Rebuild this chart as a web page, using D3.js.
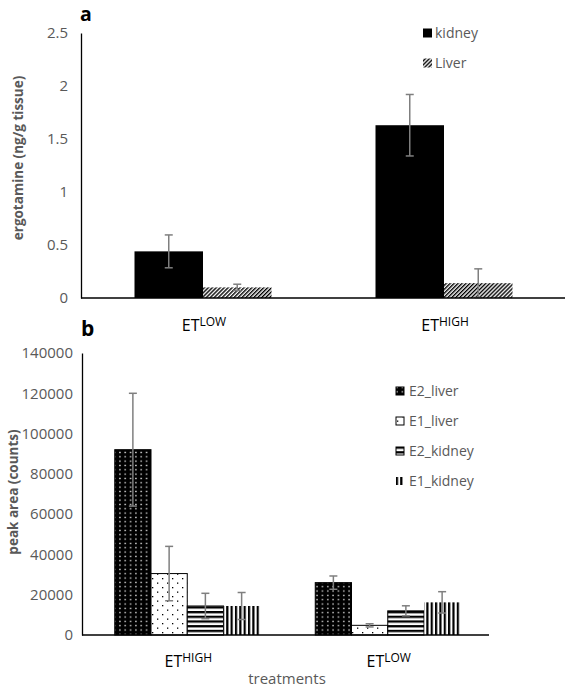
<!DOCTYPE html>
<html><head><meta charset="utf-8">
<script src="https://cdn.jsdelivr.net/npm/d3@7/dist/d3.min.js"></script>
<style>
html,body{margin:0;padding:0;background:#fff;}
svg{display:block;font-family:"Open Sans", sans-serif;}
</style></head>
<body>
<svg id="c" width="566" height="688"></svg>
<script>
// ---------- Data: panel a ----------
const catsA = ["LOW", "HIGH"];            // ET superscripts
const seriesA = ["kidney", "Liver"];
const kidneyA = [0.44, 1.63];
const kidneyErrA = [0.155, 0.29];
const liverA = [0.10, 0.14];
const liverErrA = [0.03, 0.135];
const ticksA = [0, 0.5, 1, 1.5, 2, 2.5];

// ---------- Data: panel b ----------
const catsB = ["HIGH", "LOW"];
const seriesB = ["E2_liver", "E1_liver", "E2_kidney", "E1_kidney"];
const e2Liver = [92000, 26000];
const e2LiverErr = [28000, 3300];
const e1Liver = [30500, 4800];
const e1LiverErr = [13500, 800];
const e2Kidney = [14400, 12000];
const e2KidneyErr = [6300, 2500];
const e1Kidney = [14400, 16200];
const e1KidneyErr = [6700, 5300];
const ticksB = [0, 20000, 40000, 60000, 80000, 100000, 120000, 140000];

const svg = d3.select("#c");
const GRAY = "#595959", ERR = "#7f7f7f";
const FONT = "'Open Sans', sans-serif";

// ---------- patterns ----------
const defs = svg.append("defs");
let p = defs.append("pattern").attr("id","hatch").attr("patternUnits","userSpaceOnUse")
  .attr("width",2.8).attr("height",4).attr("patternTransform","rotate(45)");
p.append("rect").attr("width",4).attr("height",4).attr("fill","#fff");
p.append("rect").attr("width",1.4).attr("height",4).attr("fill","#000");

p = defs.append("pattern").attr("id","pE2L").attr("patternUnits","userSpaceOnUse")
  .attr("width",5.33).attr("height",4.33);
p.append("rect").attr("width",6).attr("height",5).attr("fill","#000");
p.append("rect").attr("x",2).attr("y",1.5).attr("width",1.3).attr("height",1.3).attr("fill","#fff");

p = defs.append("pattern").attr("id","pE1L").attr("patternUnits","userSpaceOnUse")
  .attr("width",10).attr("height",9);
p.append("rect").attr("width",10).attr("height",9).attr("fill","#fff");
p.append("rect").attr("x",2).attr("y",2).attr("width",1.3).attr("height",1.3).attr("fill","#000");
p.append("rect").attr("x",7).attr("y",6.5).attr("width",1.3).attr("height",1.3).attr("fill","#000");

p = defs.append("pattern").attr("id","pE2K").attr("patternUnits","userSpaceOnUse")
  .attr("width",4).attr("height",4.7);
p.append("rect").attr("width",4).attr("height",4.7).attr("fill","#fff");
p.append("rect").attr("y",0).attr("width",4).attr("height",2.3).attr("fill","#000");

p = defs.append("pattern").attr("id","pE1K").attr("patternUnits","userSpaceOnUse")
  .attr("width",4.35).attr("height",4);
p.append("rect").attr("width",4.35).attr("height",4).attr("fill","#fff");
p.append("rect").attr("x",0).attr("width",2.2).attr("height",4).attr("fill","#000");

function etLabel(g, x, y, sup) {
  const t = g.append("text").attr("x", x).attr("y", y).attr("text-anchor","middle")
    .attr("fill","#000").style("font-size","16px");
  t.append("tspan").text("ET");
  t.append("tspan").attr("dy",-5).style("font-size","12px").text(sup);
}

function errBar(g, x, y0, y1) {
  g.append("line").attr("x1",x).attr("x2",x).attr("y1",y0).attr("y2",y1)
    .attr("stroke",ERR).attr("stroke-width",1.5);
  [y0,y1].forEach(yy => g.append("line").attr("x1",x-4).attr("x2",x+4).attr("y1",yy).attr("y2",yy)
    .attr("stroke",ERR).attr("stroke-width",1.5));
}

// ================= Panel a =================
(function(){
  const g = svg.append("g");
  const y = d3.scaleLinear().domain([0,2.5]).range([298,33]);
  const x = d3.scaleBand().domain(catsA).range([82.5,564.5]);
  const xs = d3.scaleBand().domain(seriesA).range([0,137]);
  const vals = [kidneyA, liverA], errs = [kidneyErrA, liverErrA];
  const fills = ["#000", "url(#hatch)"];

  const ya = g.append("g").attr("transform","translate(81,0)")
    .call(d3.axisLeft(y).tickValues(ticksA).tickFormat(d3.format("")).tickSize(0).tickPadding(13).tickSizeOuter(0));
  ya.select(".domain").attr("stroke","#000").attr("stroke-width",1.3);
  ya.selectAll("text").attr("fill",GRAY).style("font-size","15px").style("font-family",FONT);

  seriesA.forEach((s, si) => {
    catsA.forEach((c, ci) => {
      const x0 = x(c) + x.bandwidth()/2 - 68.5 + xs(s);
      g.append("rect").attr("x", x0).attr("y", y(vals[si][ci]))
        .attr("width", xs.bandwidth()).attr("height", y(0) - y(vals[si][ci]))
        .attr("fill", fills[si]);
    });
  });
  seriesA.forEach((s, si) => {
    catsA.forEach((c, ci) => {
      const cx = x(c) + x.bandwidth()/2 - 68.5 + xs(s) + xs.bandwidth()/2;
      errBar(g, cx, y(vals[si][ci] + errs[si][ci]), y(Math.max(0, vals[si][ci] - errs[si][ci])));
    });
  });
  g.append("line").attr("x1",81).attr("x2",565).attr("y1",y(0)).attr("y2",y(0))
    .attr("stroke","#000").attr("stroke-width",1.3);

  catsA.forEach(c => etLabel(g, x(c) + x.bandwidth()/2 + 1, 331, c));

  g.append("text").attr("transform","translate(23,158) rotate(-90)").attr("text-anchor","middle")
    .attr("fill",GRAY).style("font-size","13.5px").style("font-weight","bold").text("ergotamine (ng/g tissue)");
  g.append("text").attr("x",80).attr("y",21).style("font-size","19.5px").style("font-weight","bold")
    .attr("fill","#000").text("a");

  // legend
  const lg = g.append("g");
  seriesA.forEach((s, i) => {
    const yy = 33 + i*30;
    lg.append("rect").attr("x",423).attr("y",yy-4.5).attr("width",9).attr("height",9).attr("fill",fills[i]);
    lg.append("text").attr("x",435).attr("y",yy+5).attr("fill",GRAY).style("font-size","14px").text(s);
  });
})();

// ================= Panel b =================
(function(){
  const g = svg.append("g");
  const y = d3.scaleLinear().domain([0,140000]).range([635,353]);
  const x = d3.scaleBand().domain(catsB).range([87,488]);
  const xs = d3.scaleBand().domain(seriesB).range([0,145]);
  const vals = [e2Liver, e1Liver, e2Kidney, e1Kidney];
  const errs = [e2LiverErr, e1LiverErr, e2KidneyErr, e1KidneyErr];
  const fills = ["url(#pE2L)", "url(#pE1L)", "url(#pE2K)", "url(#pE1K)"];
  const strokes = ["#000", "#000", "#000", "none"];

  const ya = g.append("g").attr("transform","translate(82,0)")
    .call(d3.axisLeft(y).tickValues(ticksB).tickFormat(d3.format("d")).tickSize(0).tickPadding(9).tickSizeOuter(0));
  ya.select(".domain").attr("stroke","#000").attr("stroke-width",1.3);
  ya.selectAll("text").attr("fill",GRAY).style("font-size","15px").style("font-family",FONT);

  seriesB.forEach((s, si) => {
    catsB.forEach((c, ci) => {
      const x0 = x(c) + x.bandwidth()/2 - 72.5 + xs(s);
      g.append("rect").attr("x", x0).attr("y", y(vals[si][ci]))
        .attr("width", xs.bandwidth()).attr("height", y(0) - y(vals[si][ci]))
        .attr("fill", fills[si]).attr("stroke", strokes[si]).attr("stroke-width",1);
    });
  });
  seriesB.forEach((s, si) => {
    catsB.forEach((c, ci) => {
      const cx = x(c) + x.bandwidth()/2 - 72.5 + xs(s) + xs.bandwidth()/2;
      errBar(g, cx, y(vals[si][ci] + errs[si][ci]), y(Math.max(0, vals[si][ci] - errs[si][ci])));
    });
  });
  g.append("line").attr("x1",82).attr("x2",489).attr("y1",y(0)).attr("y2",y(0))
    .attr("stroke","#000").attr("stroke-width",1.3);

  catsB.forEach(c => etLabel(g, x(c) + x.bandwidth()/2 + 1, 667, c));
  g.append("text").attr("x",287).attr("y",684).attr("text-anchor","middle").attr("fill",GRAY)
    .style("font-size","15px").text("treatments");

  g.append("text").attr("transform","translate(18,492) rotate(-90)").attr("text-anchor","middle")
    .attr("fill",GRAY).style("font-size","13.5px").style("font-weight","bold").text("peak area (counts)");
  g.append("text").attr("x",81).attr("y",336).style("font-size","21px").style("font-weight","bold")
    .attr("fill","#000").text("b");

  const lg = g.append("g");
  seriesB.forEach((s, i) => {
    const yy = 391 + i*30;
    lg.append("rect").attr("x",396).attr("y",yy-4).attr("width",8).attr("height",8)
      .attr("fill",fills[i]).attr("stroke",strokes[i]).attr("stroke-width",1);
    lg.append("text").attr("x",409).attr("y",yy+5).attr("fill",GRAY).style("font-size","14px").text(s);
  });
})();
</script>
</body></html>
